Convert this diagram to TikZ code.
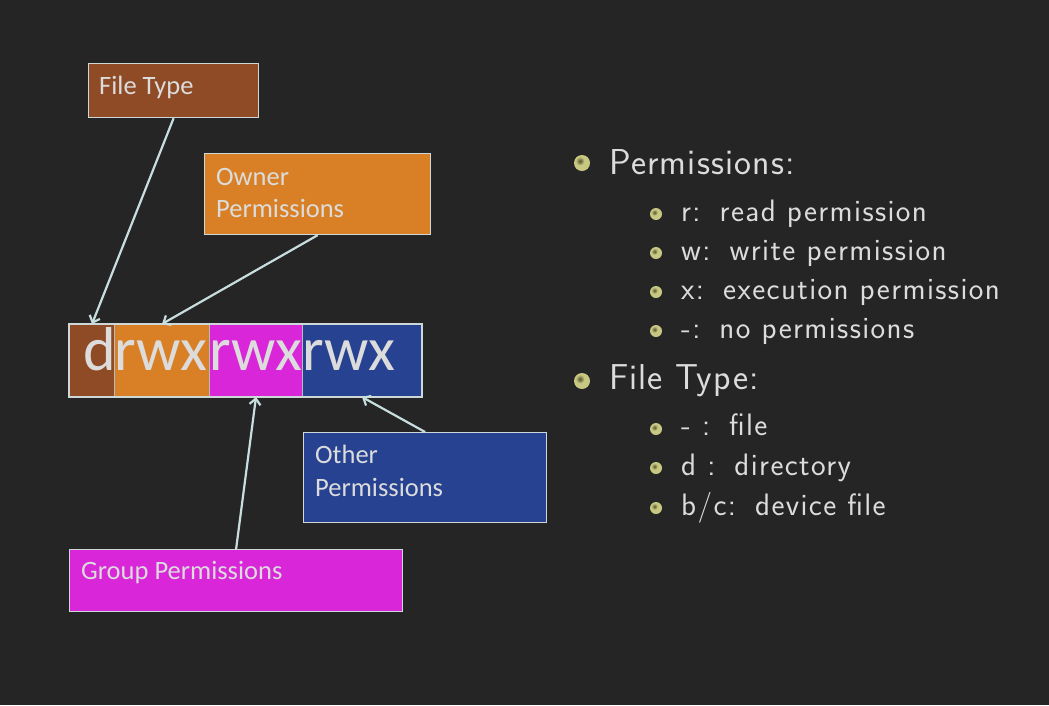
\documentclass[tikz,border=0pt]{standalone}
\usepackage{fontspec}
\newfontfamily\lblfont{Carlito}
\newfontfamily\mainlistfont{Latin Modern Sans}[LetterSpace=3.2]
\newfontfamily\sublistfont{Latin Modern Sans}[LetterSpace=4.5]
\usetikzlibrary{arrows.meta,calc}
\definecolor{bg}{HTML}{252525}
\definecolor{cbrown}{HTML}{8F4B26}
\definecolor{corange}{HTML}{D98026}
\definecolor{cmag}{HTML}{D926D9}
\definecolor{cblue}{HTML}{264291}
\definecolor{cborder}{HTML}{CFD8D8}
\definecolor{carrow}{HTML}{C8DEDE}
\definecolor{ctext}{HTML}{DCDCDC}
\definecolor{cball}{HTML}{C8C882}
\definecolor{cballdark}{HTML}{55552C}
\newcommand{\gap}{\ \hspace{8pt}}
\tikzset{
  lblbox/.style={draw=cborder, line width=1.2pt, anchor=north west, inner sep=0pt, minimum width=#1},
  seg/.style={draw=cborder!70!gray, line width=1pt, anchor=north west, inner sep=0pt, minimum height=72pt, minimum width=#1},
  lbltext/.style={anchor=base west, inner sep=0pt, text=ctext, font=\lblfont\fontsize{26.5}{30}\selectfont},
  bigtext/.style={inner sep=0pt, text=ctext, font=\lblfont\fontsize{62}{62}\selectfont},
  conn/.style={draw=carrow, line width=2.2pt, -{Straight Barb[length=6pt,width=11pt]}},
  mainitem/.style={anchor=base west, inner sep=0pt, text=ctext, font=\mainlistfont\fontsize{36}{36}\selectfont},
  subitem/.style={anchor=base west, inner sep=0pt, text=ctext, font=\sublistfont\fontsize{31}{31}\selectfont},
}
\newcommand{\mainbullet}[1]{%
  \fill[cball] #1 circle (8pt);
  \shade[inner color=cballdark, outer color=cball] ($#1+(-2,-2)$) circle (4.5pt);}
\newcommand{\subbullet}[1]{%
  \fill[cball] #1 circle (6pt);
  \shade[inner color=cballdark, outer color=cball] ($#1+(-1.5,-1.5)$) circle (3.3pt);}
\begin{document}
\begin{tikzpicture}[x=1pt,y=-1pt]
\fill[bg] (0,0) rectangle (1049,705);
\useasboundingbox (0,0) rectangle (1049,705);

% permission strip
\node[seg=45pt, fill=cbrown] (seg1) at (69,324) {};
\node[seg=95pt, fill=corange] (seg2) at (114,324) {};
\node[seg=93pt, fill=cmag] (seg3) at (209,324) {};
\node[seg=119pt, fill=cblue] (seg4) at (302,324) {};
\draw[cborder, line width=1.2pt] (seg1.north west) rectangle (seg4.south east);
\node[bigtext, anchor=base east] (t1) at (116,370) {d};
\node[bigtext, anchor=base west] (t2) at (114,370) {rwx};
\node[bigtext, anchor=base west] (t3) at (209,370) {rwx};
\node[bigtext, anchor=base west] (t4) at (302,370) {rwx};

% label boxes
\node[lblbox=170pt, minimum height=54pt, fill=cbrown] (ft) at (88,63) {};
\node[lblbox=226pt, minimum height=81pt, fill=corange] (own) at (204,153) {};
\node[lblbox=243pt, minimum height=90pt, fill=cblue] (oth) at (303,432) {};
\node[lblbox=333pt, minimum height=62pt, fill=cmag] (grp) at (69,549) {};
\node[lbltext] (ftt) at (99,94) {File Type};
\node[lbltext] (ownt1) at (216,185) {Owner};
\node[lbltext] (ownt2) at (216,217) {Permissions};
\node[lbltext] (otht1) at (315,463) {Other};
\node[lbltext] (otht2) at (315,496) {Permissions};
\node[lbltext] (grpt) at (81,579) {Group Permissions};

% connectors
\draw[conn] (ft.south) -- (seg1.north);
\draw[conn] (own.south) -- (seg2.north);
\draw[conn] (grp.north) -- (seg3.south);
\draw[conn] (oth.north) -- (seg4.south);

% right-hand list
\mainbullet{(582,163)}
\node[mainitem] (m1) at (609,174) {Permissions:};
\subbullet{(656,214)}
\node[subitem] (s1) at (681,221) {r:\gap read permission};
\subbullet{(656,253)}
\node[subitem] (s2) at (681,260) {w:\gap write permission};
\subbullet{(656,292)}
\node[subitem] (s3) at (681,299) {x:\gap execution permission};
\subbullet{(656,331)}
\node[subitem] (s4) at (681,338) {-:\gap no permissions};
\mainbullet{(582,381)}
\node[mainitem] (m2) at (609,389) {File Type:};
\subbullet{(656,429)}
\node[subitem] (s5) at (681,435) {- :\gap file};
\subbullet{(656,468)}
\node[subitem] (s6) at (681,475) {d :\gap directory};
\subbullet{(656,508)}
\node[subitem] (s7) at (681,515) {b/c:\gap device file};
\end{tikzpicture}
\end{document}
